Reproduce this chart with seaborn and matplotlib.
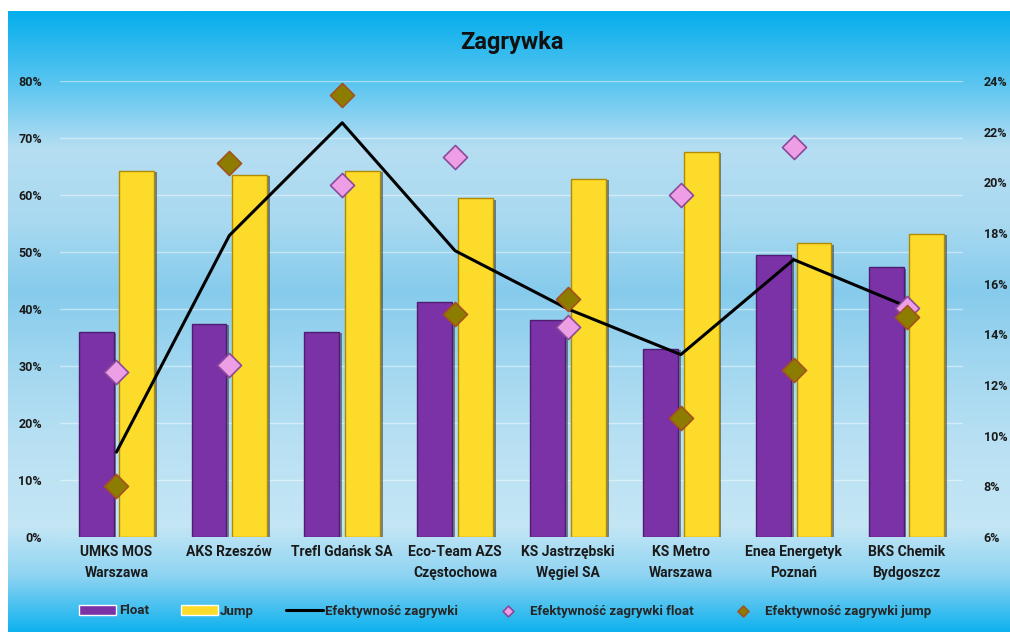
import numpy as np
import pandas as pd
import seaborn as sns
import matplotlib.pyplot as plt
import matplotlib.patheffects as pe
from matplotlib.colors import LinearSegmentedColormap
from matplotlib.ticker import PercentFormatter

sns.set_style("white")
plt.rcParams['font.family'] = ['Roboto', 'DejaVu Sans']

# dane
clubs = ["UMKS MOS\nWarszawa", "AKS Rzeszów", "Trefl Gdańsk SA", "Eco-Team AZS\nCzęstochowa",
         "KS Jastrzębski\nWęgiel SA", "KS Metro\nWarszawa", "Enea Energetyk\nPoznań",
         "BKS Chemik\nBydgoszcz"]
float_pct = [36.0, 37.4, 36.0, 41.2, 38.1, 33.0, 49.4, 47.3]
jump_pct = [64.2, 63.5, 64.2, 59.4, 62.8, 67.6, 51.5, 53.2]
eff_total = [9.35, 17.9, 22.35, 17.3, 15.0, 13.2, 16.95, 15.1]
eff_float = [12.5, 12.8, 19.9, 21.0, 14.3, 19.5, 21.4, 15.05]
eff_jump = [8.0, 20.75, 23.45, 14.8, 15.4, 10.7, 12.6, 14.7]

df = pd.DataFrame({
    'Klub': clubs * 2,
    'Procent': float_pct + jump_pct,
    'Typ': ['Float'] * len(clubs) + ['Jump'] * len(clubs),
})

fig = plt.figure(figsize=(10.1, 6.32), dpi=100)

# gradient tła (jak w Excelu)
bg = fig.add_axes([8 / 1010, 0, 1 - 8 / 1010, 1 - 11 / 632])
stops = [(0.0, '#10b2ee'), (0.09, '#8fd4f2'), (0.17, '#c4e6f5'), (0.30, '#b9e1f3'),
         (0.43, '#a2d7f0'), (0.55, '#86cbec'), (0.66, '#a8d9f0'), (0.78, '#b6def2'),
         (0.88, '#5ec6f0'), (1.0, '#05aeec')]
cmap = LinearSegmentedColormap.from_list('bg', stops)
bg.imshow(np.linspace(0, 1, 256).reshape(-1, 1), aspect='auto', cmap=cmap,
          extent=[0, 1, 0, 1], origin='lower')
bg.axis('off')

ax = fig.add_axes([60 / 1010, 95 / 632, 903 / 1010, 456 / 632])
ax.patch.set_alpha(0)

purple, yellow = '#7a32a6', '#fddb2b'
sns.barplot(data=df, x='Klub', y='Procent', hue='Typ', palette=[purple, yellow],
            saturation=1, width=0.72, gap=0.14, ax=ax, zorder=2)
shadow = [pe.SimplePatchShadow(offset=(2, -1), shadow_rgbFace='#222222', alpha=0.5), pe.Normal()]
for cont, ec in zip(ax.containers, ['#4e1d70', '#b08a00']):
    for bar in cont:
        bar.set_edgecolor(ec)
        bar.set_linewidth(1.0)
        bar.set_path_effects(shadow)

ax.set_xlim(-0.5, len(clubs) - 0.5)
ax.set_ylim(0, 80)
ax.set_yticks(np.arange(0, 81, 10))
ax.yaxis.set_major_formatter(PercentFormatter(decimals=0))
ax.yaxis.grid(True, color='white', alpha=0.45, lw=1)
ax.set_axisbelow(True)
ax.set_xlabel('')
ax.set_ylabel('')
ax.tick_params(axis='x', length=0, pad=6, labelsize=10)
ax.tick_params(axis='y', length=0, pad=13, labelsize=9)
for lab in ax.get_xticklabels():
    lab.set_fontweight('bold')
    lab.set_color('#1a1a1a')
    lab.set_linespacing(1.6)
for lab in ax.get_yticklabels():
    lab.set_fontweight('bold')
    lab.set_color('#1a1a1a')
for s in ax.spines.values():
    s.set_visible(False)

ax2 = ax.twinx()
ax2.patch.set_alpha(0)
xs = np.arange(len(clubs))
sns.lineplot(x=xs, y=eff_total, color='black', lw=2.2, ax=ax2, label='Efektywność zagrywki', zorder=3)
sns.scatterplot(x=xs, y=eff_float, marker='D', s=150, color='#ee9ee4', edgecolor='#8a4a9a',
                linewidth=1.2, ax=ax2, label='Efektywność zagrywki float', zorder=4)
sns.scatterplot(x=xs, y=eff_jump, marker='D', s=150, color='#8c7d00', edgecolor='#a3521f',
                linewidth=1.2, ax=ax2, label='Efektywność zagrywki jump', zorder=4)
ax2.set_ylim(6, 24)
ax2.set_yticks(np.arange(6, 25, 2))
ax2.yaxis.set_major_formatter(PercentFormatter(decimals=0))
ax2.tick_params(axis='y', length=0, pad=15, labelsize=9)
for lab in ax2.get_yticklabels():
    lab.set_fontweight('bold')
    lab.set_color('#1a1a1a')
for s in ax2.spines.values():
    s.set_visible(False)
ax2.grid(False)

h1, l1 = ax.get_legend_handles_labels()
h2, l2 = ax2.get_legend_handles_labels()
for a in (ax, ax2):
    if a.get_legend() is not None:
        a.get_legend().remove()

fig.legend(h1 + h2, l1 + l2, loc='center', bbox_to_anchor=(0.5, 1 - 611 / 632), ncol=5,
           frameon=False, prop={'weight': 'bold', 'size': 9.5}, handlelength=2.8,
           handletextpad=0.2, columnspacing=2.4, markerscale=0.45)

fig.text(0.507, 1 - 42 / 632, 'Zagrywka', ha='center', va='center', fontsize=17,
         fontweight='bold', color='#111111')

fig.savefig('out.png', dpi=100)
